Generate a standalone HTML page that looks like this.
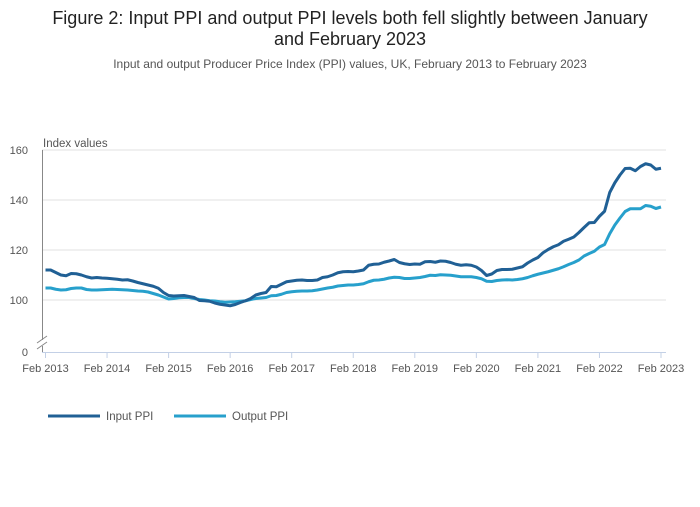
<!DOCTYPE html>
<html><head><meta charset="utf-8"><style>
body{margin:0;background:#fff;font-family:"Liberation Sans",sans-serif;}
svg text{font-family:"Liberation Sans",sans-serif;}
</style></head><body>
<svg id="chart" width="700" height="502" xmlns="http://www.w3.org/2000/svg">
<text x="350" y="24" text-anchor="middle" font-size="18" fill="#222">Figure 2: Input PPI and output PPI levels both fell slightly between January</text>
<text x="350" y="45" text-anchor="middle" font-size="18" fill="#222">and February 2023</text>
<text x="350" y="68" text-anchor="middle" font-size="12" fill="#555">Input and output Producer Price Index (PPI) values, UK, February 2013 to February 2023</text>
<text x="43" y="147" font-size="11.5" fill="#555">Index values</text>
<g id="grid"></g><g id="axes"></g><g id="series"></g>
<g>
<line x1="48" y1="416" x2="100" y2="416" stroke="#206095" stroke-width="3"/>
<text x="106" y="420" font-size="11.5" fill="#555">Input PPI</text>
<line x1="174" y1="416" x2="226" y2="416" stroke="#27a0cc" stroke-width="3"/>
<text x="232" y="420" font-size="11.5" fill="#555">Output PPI</text>
</g>
</svg>
<script>
const yTicks=[100,120,140,160];
const xTickLabels=["Feb 2013","Feb 2014","Feb 2015","Feb 2016","Feb 2017","Feb 2018","Feb 2019","Feb 2020","Feb 2021","Feb 2022","Feb 2023"];
const inputPPI=[112,112,111,110,109.7,110.6,110.5,110,109.3,108.8,109,108.8,
108.7,108.5,108.3,108,108.1,107.6,107,106.5,106,105.5,104.7,103,
101.8,101.6,101.7,101.8,101.4,101,99.8,99.7,99.5,98.8,98.3,98,
97.7,98.2,99,99.7,100.6,102,102.6,103,105.4,105.3,106.3,107.3,
107.6,107.9,108,107.8,107.8,108,109,109.3,110,110.9,111.3,111.4,
111.3,111.6,112,113.9,114.3,114.4,115.1,115.6,116.2,115,114.5,114.2,
114.4,114.3,115.3,115.4,115.1,115.6,115.5,115,114.3,113.9,114.1,113.9,
113.2,111.8,109.8,110.4,111.8,112.2,112.2,112.3,112.8,113.3,114.8,116,
117,118.9,120.2,121.3,122.1,123.5,124.3,125.2,127,129,130.9,131,
133.5,135.5,143,146.9,150,152.6,152.7,151.7,153.4,154.5,154,152.3,152.7];
const outputPPI=[104.8,104.8,104.3,104,104.1,104.6,104.8,104.8,104.2,104,104,104.1,
104.2,104.3,104.2,104.1,104,103.8,103.6,103.5,103.2,102.6,102,101.2,
100.4,100.6,100.9,101,101,100.6,100.2,100,99.7,99.6,99.3,99.1,
99.2,99.3,99.5,99.7,100.2,100.6,100.8,101,101.7,101.8,102.3,103,
103.3,103.5,103.6,103.6,103.7,104,104.4,104.8,105.1,105.6,105.8,106,
106,106.2,106.5,107.3,107.9,108,108.3,108.8,109.1,109,108.6,108.6,
108.8,109,109.4,109.9,109.8,110.1,110,109.9,109.6,109.3,109.3,109.3,
109,108.5,107.5,107.4,107.8,108,108.1,108,108.2,108.5,109,109.7,
110.3,110.8,111.3,111.9,112.5,113.3,114.2,115,116,117.6,118.6,119.5,
121.2,122.2,126.5,130,132.8,135.4,136.5,136.5,136.5,137.8,137.5,136.6,137.2];
const NS="http://www.w3.org/2000/svg";
const x0=45.5,x1=661,nM=120;
function xs(i){return x0+(x1-x0)*i/nM;}
function ys(v){return 300-(v-100)*2.5;}
function mk(tag,attrs,parent){const e=document.createElementNS(NS,tag);for(const k in attrs)e.setAttribute(k,attrs[k]);parent.appendChild(e);return e;}
const grid=document.getElementById('grid'),axes=document.getElementById('axes'),ser=document.getElementById('series');
yTicks.forEach(v=>{
 const l=mk('line',{x1:42,x2:666,y1:ys(v),y2:ys(v),stroke:'#e2e2e2','stroke-width':1},grid);
 
 
 const t=mk('text',{x:28,y:ys(v)+4,'text-anchor':'end','font-size':11,fill:'#555'},grid);
 t.textContent=v;
 
 
});
const z=mk('text',{x:28,y:356,'text-anchor':'end','font-size':11,fill:'#555'},grid);z.textContent='0';


const ya=mk('path',{d:'M42.5 150 V340 M42.5 346 V352',stroke:'#888','stroke-width':1,fill:'none'},axes);


mk('path',{d:'M37 343 L47 336 M37 349 L47 342',stroke:'#888','stroke-width':1},axes);
const xa=mk('line',{x1:42,x2:666,y1:352.5,y2:352.5,stroke:'#c3d0e6','stroke-width':1},axes);


xTickLabels.forEach((lab,k)=>{
 const x=xs(k*12);
 mk('line',{x1:x,x2:x,y1:352,y2:358,stroke:'#c3d0e6'},axes);
 const t=mk('text',{x:x,y:372,'text-anchor':'middle','font-size':11,fill:'#555'},axes);
 t.textContent=lab;
 
 
});
function line(arr,col,name){
 const d=arr.map((v,i)=>(i?'L':'M')+xs(i).toFixed(2)+' '+ys(v).toFixed(2)).join(' ');
 const p=mk('path',{d:d,stroke:col,'stroke-width':3,fill:'none','stroke-linejoin':'round'},ser);
 
 
}
line(outputPPI,'#27a0cc','output-ppi-line');
line(inputPPI,'#206095','input-ppi-line');
</script>
</body></html>
